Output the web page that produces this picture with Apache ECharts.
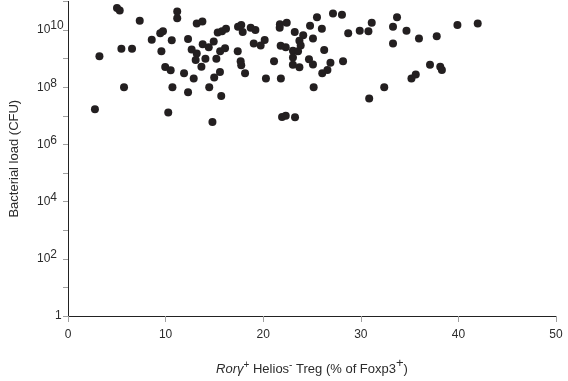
<!DOCTYPE html>
<html>
<head>
<meta charset="utf-8">
<script src="https://cdn.jsdelivr.net/npm/echarts@6/dist/echarts.min.js"></script>
<style>
  html, body { margin: 0; padding: 0; background: #fff; }
  #chart { width: 568px; height: 381px; }
</style>
</head>
<body>
<div id="chart"></div>
<script>
// Rorγ+ Helios- Treg (% of Foxp3+) for each mouse
const tregPct = [
  5.02, 5.30, 11.19, 11.19, 7.35, 9.45, 9.73, 8.58, 10.63, 12.30,
  5.47, 6.56, 9.57, 3.22, 12.67, 9.96, 10.52, 11.89, 12.88, 5.74,
  10.70, 12.30, 2.76, 10.27, 13.19, 13.77, 15.34, 15.78, 16.19, 17.42,
  17.75, 17.90, 18.72, 19.20, 21.71, 21.69, 22.41, 23.23, 24.80, 25.10,
  24.10, 23.71, 23.84, 13.80, 14.42, 14.93, 13.19, 13.08, 14.08, 15.20,
  15.59, 16.09, 17.39, 19.03, 19.74, 20.15, 21.79, 22.31, 23.05, 23.57,
  23.05, 21.11, 17.69, 17.75, 23.04, 23.71, 24.69, 25.10, 13.67, 14.98,
  15.57, 18.14, 20.28, 21.81, 14.47, 15.70, 25.17, 14.80, 21.93, 22.31,
  23.26, 25.51, 27.15, 28.07, 26.01, 28.71, 29.89, 30.78, 31.12, 33.71,
  33.30, 34.68, 35.96, 37.78, 33.30, 26.25, 26.89, 26.58, 26.05, 28.18,
  30.86, 32.40, 35.19, 35.63, 37.09, 38.14, 38.31, 39.90, 41.98
];

// Bacterial load (CFU), same order
const bacterialLoad = [
  5.9e10, 4.8e10, 4.4e10, 2.6e10, 2.1e10, 7.7e9, 9.0e9, 4.6e9, 4.4e9, 4.8e9,
  2.2e9, 2.2e9, 1.8e9, 1.2e9, 2.1e9, 5.1e8, 3.9e8, 3.1e8, 2.0e8, 9.9e7,
  9.9e7, 6.6e7, 1.7e7, 1.3e7, 1.7e10, 2.0e10, 8.1e9, 9.0e9, 1.1e10, 1.3e10,
  1.5e10, 8.5e9, 1.2e10, 1.0e10, 1.6e10, 1.2e10, 1.8e10, 8.5e9, 1.4e10, 5.0e9,
  6.5e9, 4.2e9, 2.9e9, 3.2e9, 2.5e9, 4.0e9, 1.5e9, 8.9e8, 9.9e8, 9.9e8,
  1.8e9, 2.3e9, 1.8e9, 3.4e9, 2.9e9, 4.5e9, 2.8e9, 2.5e9, 1.9e9, 1.8e9,
  1.1e9, 8.0e8, 8.0e8, 5.8e8, 6.1e8, 5.0e8, 9.5e8, 6.2e8, 5.2e8, 2.2e8,
  3.4e8, 3.1e8, 2.0e8, 2.0e8, 9.9e7, 4.9e7, 9.9e7, 6.1e6, 9.1e6, 1.0e7,
  8.9e6, 2.8e10, 3.8e10, 3.4e10, 1.1e10, 7.7e9, 9.5e9, 9.0e9, 1.8e10, 2.8e10,
  1.3e10, 9.5e9, 5.0e9, 6.0e9, 3.4e9, 2.0e9, 7.2e8, 4.0e8, 3.1e8, 8.0e8,
  4.0e7, 9.9e7, 2.0e8, 2.8e8, 6.1e8, 5.2e8, 4.0e8, 1.5e10, 1.7e10
];

// y tick labels: only even powers of ten are labelled
const yLabelledExponents = [0, 2, 4, 6, 8, 10];

const font = "'Liberation Sans', Arial, sans-serif";
const textColor = '#2b2b2b';
const tickColor = '#a0a0a0';

const chart = echarts.init(document.getElementById('chart'), null, { renderer: 'canvas' });

chart.setOption({
  animation: false,
  backgroundColor: '#fff',
  grid: { left: 68, right: 12, top: 1.4, bottom: 65, containLabel: false, outerBoundsMode: 'none' },
  xAxis: {
    type: 'value',
    min: 0,
    max: 50,
    interval: 10,
    name: '{i|Rorγ}{sup|+} Helios{sup|-} Treg (% of Foxp3{sup2|+})',
    nameLocation: 'middle',
    nameGap: 41,
    nameTextStyle: {
      fontFamily: font,
      fontSize: 13,
      color: textColor,
      rich: {
        i: { fontFamily: font, fontSize: 13, fontStyle: 'italic', color: textColor },
        sup: { fontFamily: font, fontSize: 10, color: textColor, padding: [0, 0, 8, 0] },
        sup2: { fontFamily: font, fontSize: 13, color: textColor, padding: [0, 0, 12, 0] }
      }
    },
    axisLine: { onZero: false, lineStyle: { color: '#222', width: 1 } },
    axisTick: { show: true, inside: false, length: 6, lineStyle: { color: tickColor } },
    axisLabel: { margin: 13, fontFamily: font, fontSize: 12, color: textColor },
    splitLine: { show: false }
  },
  yAxis: {
    type: 'log',
    logBase: 10,
    min: 1,
    max: 1e11,
    interval: 1,
    name: 'Bacterial load (CFU)',
    nameLocation: 'middle',
    nameGap: 47,
    nameTextStyle: { fontFamily: font, fontSize: 13, color: textColor },
    axisLine: { show: true, onZero: false, lineStyle: { color: '#222', width: 1 } },
    axisTick: { show: true, inside: false, length: 5, lineStyle: { color: tickColor } },
    axisLabel: {
      margin: 31,
      align: 'left',
      fontFamily: font,
      fontSize: 12,
      color: textColor,
      formatter: function (v) {
        const e = Math.round(Math.log10(v));
        if (yLabelledExponents.indexOf(e) < 0) return '';
        if (e === 0) return '{one|1}';
        return '10{sup|' + e + '}';
      },
      rich: {
        sup: { fontFamily: font, fontSize: 12, color: textColor, padding: [0, 0, 8, 0] },
        one: { fontFamily: font, fontSize: 12, color: textColor, padding: [0, 0, 0, 18] }
      }
    },
    splitLine: { show: false }
  },
  series: [{
    type: 'scatter',
    symbol: 'circle',
    symbolSize: 8,
    itemStyle: { color: '#231f20', opacity: 1 },
    data: tregPct.map((x, i) => [x, bacterialLoad[i]])
  }]
});
</script>
</body>
</html>
